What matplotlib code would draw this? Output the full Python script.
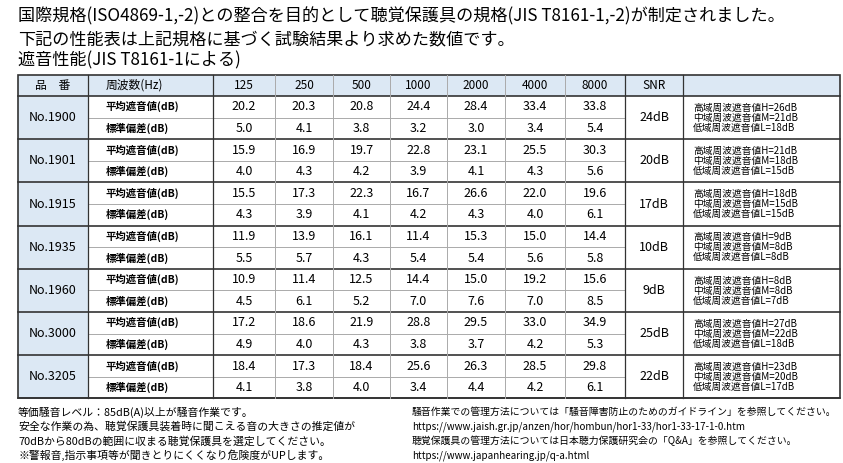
import matplotlib.pyplot as plt
from matplotlib.patches import Rectangle

plt.rcParams["font.family"] = "Noto Sans CJK JP"

freqs = ["125", "250", "500", "1000", "2000", "4000", "8000"]
products = ["No.1900", "No.1901", "No.1915", "No.1935", "No.1960", "No.3000", "No.3205"]
mean_att = [
    [20.2, 20.3, 20.8, 24.4, 28.4, 33.4, 33.8],
    [15.9, 16.9, 19.7, 22.8, 23.1, 25.5, 30.3],
    [15.5, 17.3, 22.3, 16.7, 26.6, 22.0, 19.6],
    [11.9, 13.9, 16.1, 11.4, 15.3, 15.0, 14.4],
    [10.9, 11.4, 12.5, 14.4, 15.0, 19.2, 15.6],
    [17.2, 18.6, 21.9, 28.8, 29.5, 33.0, 34.9],
    [18.4, 17.3, 18.4, 25.6, 26.3, 28.5, 29.8],
]
std_dev = [
    [5.0, 4.1, 3.8, 3.2, 3.0, 3.4, 5.4],
    [4.0, 4.3, 4.2, 3.9, 4.1, 4.3, 5.6],
    [4.3, 3.9, 4.1, 4.2, 4.3, 4.0, 6.1],
    [5.5, 5.7, 4.3, 5.4, 5.4, 5.6, 5.8],
    [4.5, 6.1, 5.2, 7.0, 7.6, 7.0, 8.5],
    [4.9, 4.0, 4.3, 3.8, 3.7, 4.2, 5.3],
    [4.1, 3.8, 4.0, 3.4, 4.4, 4.2, 6.1],
]
snr = [24, 20, 17, 10, 9, 25, 22]
hml = [(26, 21, 18), (21, 18, 15), (18, 15, 15), (9, 8, 8), (8, 8, 7), (27, 22, 18), (23, 20, 17)]

fig = plt.figure(figsize=(8.43, 4.63), dpi=100)
ax = fig.add_axes([0, 0, 1, 1])
ax.set_xlim(0, 843)
ax.set_ylim(463, 0)
ax.axis("off")

# header text
ax.text(18, 16, "国際規格(ISO4869-1,-2)との整合を目的として聴覚保護具の規格(JIS T8161-1,-2)が制定されました。",
        fontsize=12.3, va="center")
ax.text(18, 39, "下記の性能表は上記規格に基づく試験結果より求めた数値です。", fontsize=12.3, va="center")
ax.text(18, 60, "遮音性能(JIS T8161-1による)", fontsize=12.3, va="center")

xs = [18, 88, 213, 275, 333, 390, 447, 505, 565, 625, 683, 840]
top, hh, rh = 75, 21, 43.2
blue = "#dce8f4"
dark = "#333333"

ax.add_patch(Rectangle((xs[0], top), xs[-1] - xs[0], hh, fc=blue, ec="none"))
for i in range(len(products)):
    ax.add_patch(Rectangle((xs[0], top + hh + i * rh), xs[1] - xs[0], rh, fc=blue, ec="none"))

heads = ["品　番", "周波数(Hz)"] + freqs + ["SNR", ""]
for j, h in enumerate(heads):
    x = (xs[j] + xs[j + 1]) / 2 if j != 1 else xs[1] + 18
    ax.text(x, top + hh / 2, h, fontsize=8.5, ha="center" if j != 1 else "left", va="center")

bottom = top + hh + len(products) * rh
for i, p in enumerate(products):
    y0 = top + hh + i * rh
    ya, yb = y0 + rh / 4, y0 + 3 * rh / 4
    ax.text((xs[0] + xs[1]) / 2, y0 + rh / 2, p, fontsize=9, ha="center", va="center")
    ax.text(xs[1] + 18, ya, "平均遮音値(dB)", fontsize=7.5, va="center", weight="bold")
    ax.text(xs[1] + 18, yb, "標準偏差(dB)", fontsize=7.5, va="center", weight="bold")
    for k in range(7):
        xc = (xs[k + 2] + xs[k + 3]) / 2
        ax.text(xc, ya, f"{mean_att[i][k]:.1f}", fontsize=9, ha="center", va="center")
        ax.text(xc, yb, f"{std_dev[i][k]:.1f}", fontsize=9, ha="center", va="center")
    ax.text((xs[9] + xs[10]) / 2, y0 + rh / 2, f"{snr[i]}dB", fontsize=9, ha="center", va="center")
    h, m, l = hml[i]
    ax.text(xs[10] + 10, y0 + rh / 2,
            f"高域周波遮音値H={h}dB\n中域周波遮音値M={m}dB\n低域周波遮音値L={l}dB",
            fontsize=7, va="center", linespacing=1.0)
    ax.plot([xs[1], xs[9]], [y0 + rh / 2] * 2, color="#aaaaaa", lw=0.7)
    ax.plot([xs[0], xs[-1]], [y0 + rh] * 2, color=dark, lw=1.2)

ax.plot([xs[0], xs[-1]], [top + hh] * 2, color=dark, lw=1.2)
ax.add_patch(Rectangle((xs[0], top), xs[-1] - xs[0], bottom - top, fc="none", ec=dark, lw=1.2))
for j, x in enumerate(xs[1:-1], start=1):
    ax.plot([x, x], [top, bottom], color=dark if j in (1, 2, 9, 10) else "#aaaaaa", lw=0.9 if j in (1, 2, 9, 10) else 0.7)

notes_l = ["等価騒音レベル：85dB(A)以上が騒音作業です。",
           "安全な作業の為、聴覚保護具装着時に聞こえる音の大きさの推定値が",
           "70dBから80dBの範囲に収まる聴覚保護具を選定してください。",
           "※警報音,指示事項等が聞きとりにくくなり危険度がUPします。"]
notes_r = ["騒音作業での管理方法については「騒音障害防止のためのガイドライン」を参照してください。",
           "https://www.jaish.gr.jp/anzen/hor/hombun/hor1-33/hor1-33-17-1-0.htm",
           "聴覚保護具の管理方法については日本聴力保護研究会の「Q&A」を参照してください。",
           "https://www.japanhearing.jp/q-a.html"]
for i, (a, b) in enumerate(zip(notes_l, notes_r)):
    y = 412 + i * 14.5
    ax.text(18, y, a, fontsize=7.8, va="center")
    ax.text(412, y, b, fontsize=7.1, va="center")

fig.savefig("out.png", dpi=100)
